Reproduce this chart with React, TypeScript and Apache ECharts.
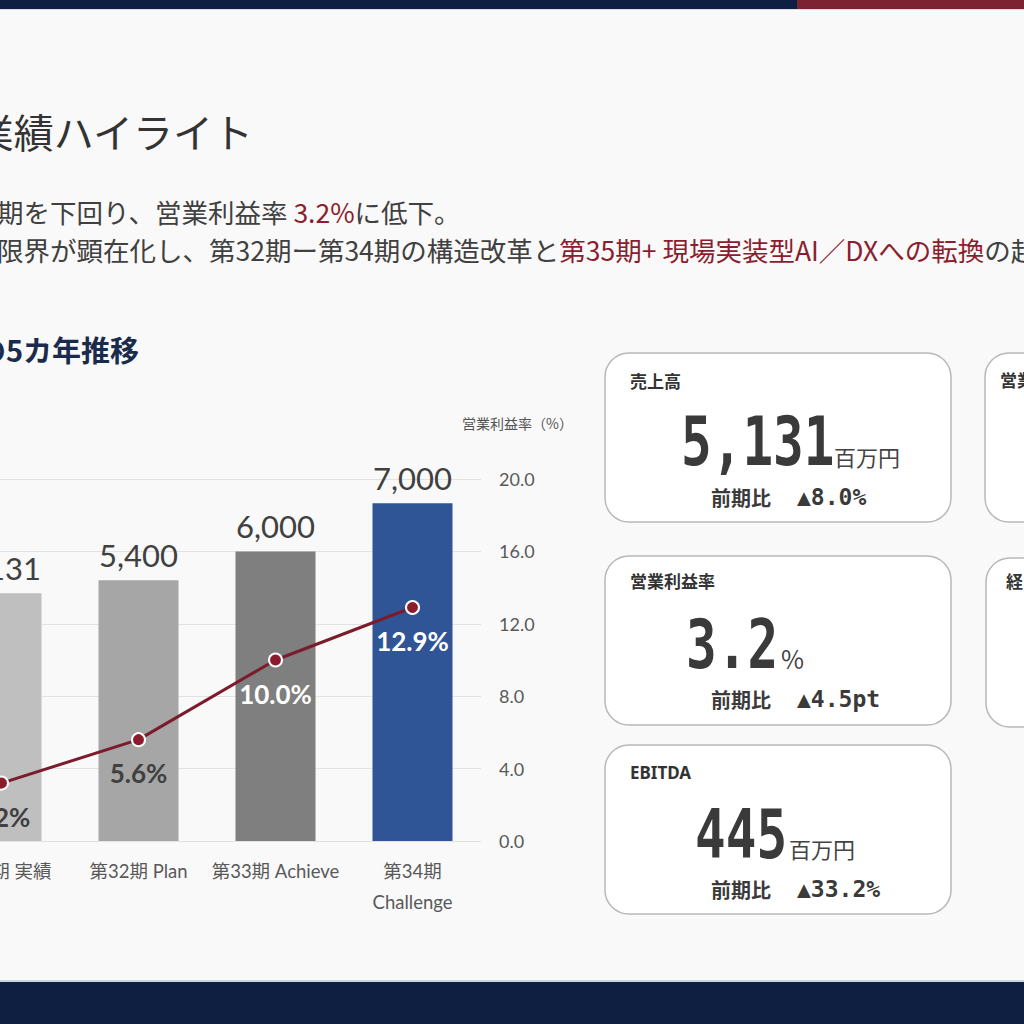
import React, { useEffect, useRef } from "react";
import * as echarts from "echarts";

// ---- data ----
const categories = ["第31期 実績", "第32期 Plan", "第33期 Achieve", "第34期\nChallenge"];
const salesValues = [5131, 5400, 6000, 7000];
const marginValues = [3.2, 5.6, 10.0, 12.9];
const salesAxisMax = 7500;
const marginAxisMin = 0;
const marginAxisMax = 20;
const marginAxisStep = 4;

const kpiTitles = ["売上高", "営業利益率", "EBITDA"];
const kpiValues = ["5,131", "3.2", "445"];
const kpiUnits = ["百万円", "%", "百万円"];
const kpiChangeLabel = "前期比";
const kpiChanges = ["▲8.0%", "▲4.5pt", "▲33.2%"];
const sideCardTitles = ["営業", "経"];

const titleText = "業績ハイライト";
const leadLine1a = "期を下回り、営業利益率 ";
const leadLine1b = "3.2%";
const leadLine1c = "に低下。";
const leadLine2a = "限界が顕在化し、第32期ー第34期の構造改革と";
const leadLine2b = "第35期+ 現場実装型AI／DXへの転換";
const leadLine2c = "の起";
const sectionText = "の5カ年推移";
const rightAxisName = "営業利益率（%）";

// ---- styles ----
const barColors = ["#bfbfbf", "#a6a6a6", "#7f7f7f", "#2f5597"];
const lineLabelColors = ["#404040", "#404040", "#ffffff", "#ffffff"];
const NAVY = "#0f1f41";
const MAROON = "#7b2331";
const ACCENT = "#8b1e2e";
const TEXT = "#3a3a3a";
const CJK = '"Noto Sans CJK JP", "Noto Sans", sans-serif';
const LATIN = 'Lato, "Noto Sans CJK JP", sans-serif';
const MONO = '"DejaVu Sans Mono", monospace';

function txt(x: number, y: number, text: string, style: any, extra: any = {}) {
  return {
    type: "text",
    x,
    y,
    ...extra,
    style: {
      text,
      fill: TEXT,
      fontFamily: CJK,
      align: "left",
      textAlign: "left",
      verticalAlign: "middle",
      textVerticalAlign: "middle",
      ...style,
    },
  };
}

function card(x: number, y: number, w: number, h: number) {
  return {
    type: "rect",
    shape: { x, y, width: w, height: h, r: 24 },
    style: { fill: "#ffffff", stroke: "#b8b8b8", lineWidth: 1.5 },
  };
}

function richLine(y: number, a: string, b: string, c: string) {
  return {
    type: "text",
    x: -3,
    y,
    style: {
      text: `{a|${a}}{b|${b}}{a|${c}}`,
      fontFamily: CJK,
      fontSize: 26.5,
      align: "left",
      textAlign: "left",
      verticalAlign: "middle",
      textVerticalAlign: "middle",
      rich: {
        a: { fill: "#404040", color: "#404040", fontSize: 26.5, fontFamily: CJK },
        b: { fill: ACCENT, color: ACCENT, fontSize: 26.5, fontFamily: CJK },
      },
    },
  };
}

export default function App() {
  const ref = useRef<HTMLDivElement>(null);

  useEffect(() => {
    if (!ref.current) return;
    const chart = echarts.init(ref.current, undefined, { renderer: "svg" });

    const kpiLayout = [
      { titleY: 380, numX: 681, numY: 441, unitX: 834, unitY: 456, unitSize: 22, chY: 497 },
      { titleY: 580, numX: 686, numY: 644, unitX: 781, unitY: 658, unitSize: 25, chY: 699 },
      { titleY: 772, numX: 695, numY: 834, unitX: 789, unitY: 848, unitSize: 22, chY: 889 },
    ];

    const graphics: any[] = [
      // top bands
      { type: "rect", shape: { x: 0, y: 0, width: 797, height: 9 }, style: { fill: NAVY } },
      { type: "rect", shape: { x: 797, y: 0, width: 227, height: 9 }, style: { fill: MAROON } },
      { type: "rect", shape: { x: 0, y: 9, width: 1024, height: 1 }, style: { fill: "#d8dde6" } },
      // bottom band
      { type: "rect", shape: { x: 0, y: 980, width: 1024, height: 2 }, style: { fill: "#c9d5e3" } },
      { type: "rect", shape: { x: 0, y: 982, width: 1024, height: 42 }, style: { fill: NAVY } },
      // title
      txt(253, 131, titleText, { fontSize: 40, align: "right", textAlign: "right", fill: "#333333" }),
      // lead text
      richLine(211, leadLine1a, leadLine1b, leadLine1c),
      richLine(249, leadLine2a, leadLine2b, leadLine2c),
      // section heading
      txt(139, 349, sectionText, { fontSize: 29, fontWeight: "bold", fill: "#1b2b4b", align: "right", textAlign: "right" }),
      // right axis name
      txt(462, 423, rightAxisName, { fontSize: 14, fill: "#555555" }),
      // cards
      card(605, 353, 346, 169),
      card(605, 556, 346, 169),
      card(605, 745, 346, 169),
      card(985, 353, 120, 169),
      card(986, 558, 120, 169),
      txt(1000, 379, sideCardTitles[0], { fontSize: 17, fontWeight: "bold", fill: "#333333" }),
      txt(1006, 580, sideCardTitles[1], { fontSize: 17, fontWeight: "bold", fill: "#333333" }),
    ];

    kpiLayout.forEach((l, i) => {
      const isLatin = /^[A-Za-z]+$/.test(kpiTitles[i]);
      graphics.push(
        txt(630, l.titleY, kpiTitles[i], {
          fontSize: 17,
          fontWeight: "bold",
          fill: "#333333",
          fontFamily: isLatin ? '"Noto Sans", sans-serif' : CJK,
        })
      );
      graphics.push(
        txt(l.numX, l.numY, kpiValues[i], { fontSize: 68, fontWeight: "bold", fontFamily: MONO, fill: "#3a3a3a" }, { scaleX: 0.75 })
      );
      graphics.push(txt(l.unitX, l.unitY, kpiUnits[i], { fontSize: l.unitSize, fill: "#444444" }));
      graphics.push(txt(711, l.chY, kpiChangeLabel, { fontSize: 20, fontWeight: "bold", fill: "#3a3a3a" }));
      graphics.push(txt(797, l.chY, kpiChanges[i], { fontSize: 23, fontWeight: "bold", fontFamily: MONO, fill: "#3a3a3a" }));
    });

    const option: any = {
      animation: false,
      backgroundColor: "#f9f9f9",
      grid: {
        left: -67,
        top: 479,
        width: 548,
        height: 362,
        containLabel: false,
        outerBoundsMode: "none",
      },
      xAxis: {
        type: "category",
        data: categories,
        axisLine: { show: false },
        axisTick: { show: false },
        axisLabel: {
          color: "#595959",
          fontSize: 18.5,
          fontFamily: LATIN,
          margin: 14,
          lineHeight: 31,
          interval: 0,
        },
      },
      yAxis: [
        { type: "value", min: 0, max: salesAxisMax, show: false, splitLine: { show: false } },
        {
          type: "value",
          position: "right",
          min: marginAxisMin,
          max: marginAxisMax,
          interval: marginAxisStep,
          axisLine: { show: false },
          axisTick: { show: false },
          axisLabel: {
            formatter: (v: number) => v.toFixed(1),
            color: "#595959",
            fontSize: 18,
            fontFamily: LATIN,
            margin: 18,
          },
          splitLine: { lineStyle: { color: "#e2e2e2", width: 1 } },
        },
      ],
      series: [
        {
          type: "bar",
          yAxisIndex: 0,
          barWidth: 80,
          data: salesValues.map((v, i) => ({ value: v, itemStyle: { color: barColors[i] } })),
          label: {
            show: true,
            position: "top",
            distance: 10,
            fontSize: 31,
            color: "#404040",
            fontFamily: LATIN,
            formatter: (p: any) => Number(p.value).toLocaleString("en-US"),
          },
          z: 2,
        },
        {
          type: "line",
          yAxisIndex: 1,
          data: marginValues.map((v, i) => ({ value: v, label: { color: lineLabelColors[i] } })),
          symbol: "circle",
          symbolSize: 13,
          lineStyle: { color: "#7b1c2c", width: 3 },
          itemStyle: { color: "#8c1b2c", borderColor: "#ffffff", borderWidth: 2 },
          label: {
            show: true,
            position: "bottom",
            distance: 13,
            fontSize: 26,
            fontWeight: "bold",
            fontFamily: LATIN,
            formatter: (p: any) => Number(p.value).toFixed(1) + "%",
          },
          z: 3,
        },
      ],
      graphic: graphics,
    };

    chart.setOption(option);
    return () => chart.dispose();
  }, []);

  return (
    <div
      ref={ref}
      style={{ position: "fixed", left: 0, top: 0, width: 1024, height: 1024, overflow: "hidden" }}
    />
  );
}
